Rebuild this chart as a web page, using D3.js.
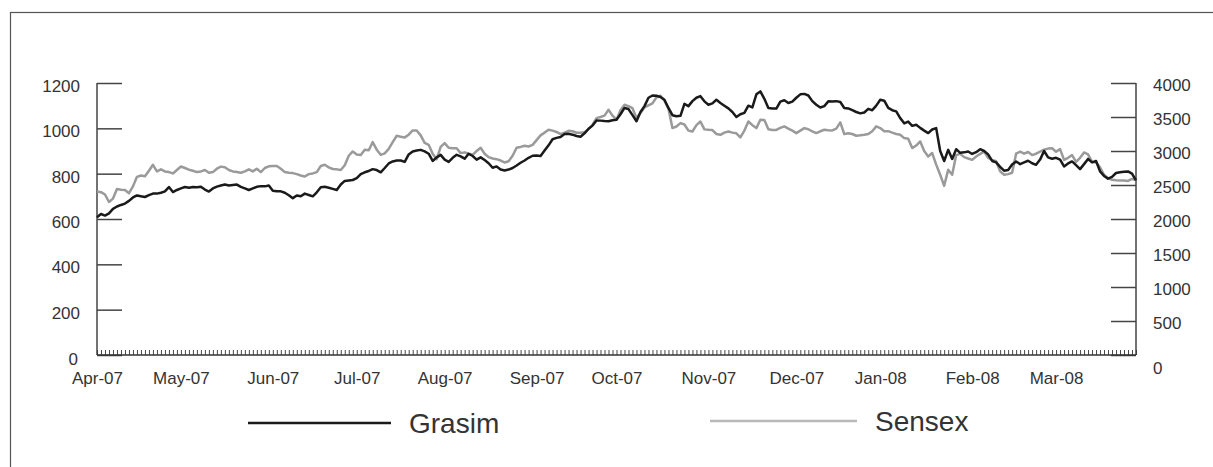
<!DOCTYPE html>
<html>
<head>
<meta charset="utf-8">
<script src="https://cdn.jsdelivr.net/npm/d3@7"></script>
<style>
  body { margin: 0; background: #fff; }
  svg text { font-family: "Liberation Sans", Arial, Helvetica, sans-serif; fill: #333; }
</style>
</head>
<body>
<script>
// one point per weekday, Apr-07 .. Mar-08
var startDate = new Date(2007, 3, 2)
var endDate = new Date(2008, 3, 1)

var leftTicks = [0, 200, 400, 600, 800, 1000, 1200]
var rightTicks = [0, 500, 1000, 1500, 2000, 2500, 3000, 3500, 4000]
var seriesNames = ['Grasim', 'Sensex']

// Grasim share price (left axis)
var grasim = [
  608,622,615,625,645,655,662,668,680,695,
  704,700,697,705,712,712,716,722,741,719,
  728,735,741,738,741,740,742,730,721,735,
  743,748,752,748,750,752,742,735,728,735,
  742,745,744,748,725,722,722,716,705,692,
  704,700,712,706,700,718,740,742,738,733,
  728,752,768,770,772,780,798,806,812,820,
  816,806,825,845,854,858,858,852,885,898,
  902,905,898,888,856,872,883,862,852,870,
  883,876,866,888,878,862,872,860,846,826,
  832,818,814,818,825,836,848,858,870,879,
  880,878,902,925,952,958,962,975,976,972,
  966,963,978,998,1012,1035,1034,1032,1031,1036,
  1038,1062,1090,1085,1058,1031,1072,1098,1135,1145,
  1144,1138,1126,1090,1058,1053,1055,1108,1098,1120,
  1135,1142,1119,1104,1110,1126,1112,1100,1088,1072,
  1050,1062,1068,1100,1092,1150,1163,1130,1090,1088,
  1087,1118,1124,1112,1118,1135,1150,1152,1145,1120,
  1104,1092,1098,1119,1118,1120,1116,1090,1088,1080,
  1072,1066,1070,1086,1080,1100,1126,1122,1090,1080,
  1075,1045,1022,1030,1011,1016,1002,990,979,995,
  1001,900,856,905,865,908,892,894,898,887,
  895,908,900,885,856,850,830,813,816,840,
  854,842,850,857,846,839,862,900,872,866,
  870,862,832,845,854,838,820,842,865,850,
  856,810,790,778,786,803,806,808,810,800,
  770
]

// Sensex (right axis)
var sensex = [
  2404,2395,2360,2250,2300,2440,2430,2425,2380,2480,
  2620,2640,2630,2710,2797,2700,2730,2700,2690,2670,
  2720,2772,2750,2725,2710,2690,2700,2720,2680,2690,
  2740,2770,2760,2720,2700,2690,2680,2700,2730,2700,
  2740,2690,2750,2775,2780,2780,2740,2690,2680,2675,
  2660,2640,2625,2660,2670,2690,2780,2797,2760,2735,
  2730,2720,2790,2930,2993,2950,2940,3018,3010,3130,
  3020,2944,2965,3030,3130,3224,3210,3200,3240,3302,
  3302,3230,3120,3091,2960,2880,3060,3116,3047,3040,
  3040,2969,2980,2960,2944,3000,3047,2960,2910,2890,
  2880,2860,2831,2850,2930,3047,3060,3077,3066,3090,
  3160,3230,3270,3312,3300,3280,3248,3270,3297,3290,
  3268,3268,3275,3320,3386,3484,3500,3520,3606,3520,
  3460,3600,3680,3660,3630,3484,3560,3640,3670,3700,
  3790,3813,3740,3620,3337,3360,3410,3390,3300,3287,
  3380,3434,3318,3312,3308,3250,3238,3270,3287,3270,
  3260,3200,3300,3434,3380,3337,3459,3455,3320,3308,
  3310,3340,3362,3330,3300,3263,3300,3337,3320,3290,
  3263,3290,3312,3305,3302,3330,3420,3248,3262,3250,
  3224,3230,3238,3250,3290,3362,3337,3290,3292,3270,
  3250,3240,3190,3180,3043,3080,3140,3000,2920,2970,
  2800,2650,2488,2723,2650,2940,2958,2910,2890,2870,
  2920,2958,2990,2900,2870,2850,2700,2650,2660,2680,
  2960,2990,2960,2985,2940,2960,2990,3020,3035,3040,
  2990,3027,2870,2900,2940,2840,2900,2978,2950,2840,
  2835,2760,2650,2600,2576,2570,2568,2565,2560,2590,
  2570
]

var options = {
  width: 1213,
  height: 467,
  left: 97,
  right: 1136,
  top: 83,
  bottom: 355
}

var dates = d3.timeDay.range(startDate, endDate).filter(function(d) {
  return d.getDay() !== 0 && d.getDay() !== 6
})
var monthStarts = dates.filter(function(d, i) {
  return i === 0 || d.getMonth() !== dates[i - 1].getMonth()
})

var svg = d3.select('body').append('svg')
  .attr('width', options.width)
  .attr('height', options.height)

// outer frame, runs off the right and bottom edge
svg.append('rect')
  .attr('x', 10.5).attr('y', 12.5)
  .attr('width', 1400).attr('height', 700)
  .attr('fill', 'none')
  .attr('stroke', '#555')
  .attr('stroke-width', 1.2)

var x = d3.scalePoint().domain(dates).range([options.left, options.right])
var yLeft = d3.scaleLinear().domain([0, 1200]).range([options.bottom, options.top])
var yRight = d3.scaleLinear().domain([0, 4000]).range([options.bottom, options.top])

// left axis, ticks point inward
var gLeft = svg.append('g')
  .attr('transform', 'translate(' + options.left + ',0)')
  .call(d3.axisRight(yLeft).tickValues(leftTicks).tickSize(25).tickFormat(''))
gLeft.select('.domain').remove()
gLeft.append('line')
  .attr('x1', 0).attr('x2', 0)
  .attr('y1', options.top).attr('y2', options.bottom)
  .attr('stroke', '#444').attr('stroke-width', 1.5)
gLeft.selectAll('.tick line').attr('stroke', '#444').attr('stroke-width', 1.5)

svg.append('g').selectAll('text').data(leftTicks).enter().append('text')
  .attr('x', function(d) { return options.left - (d === 0 ? 19 : 17) })
  .attr('y', function(d) { return yLeft(d) + (d === 0 ? 10 : 9) })
  .attr('text-anchor', 'end')
  .attr('font-size', 17)
  .text(function(d) { return d })

// right axis
var gRight = svg.append('g')
  .attr('transform', 'translate(' + options.right + ',0)')
  .call(d3.axisLeft(yRight).tickValues(rightTicks).tickSize(25).tickFormat(''))
gRight.select('.domain').remove()
gRight.append('line')
  .attr('x1', 0).attr('x2', 0)
  .attr('y1', options.top).attr('y2', options.bottom)
  .attr('stroke', '#444').attr('stroke-width', 1.5)
gRight.selectAll('.tick line').attr('stroke', '#444').attr('stroke-width', 1.5)

svg.append('g').selectAll('text').data(rightTicks).enter().append('text')
  .attr('x', options.right + 17)
  .attr('y', function(d) { return yRight(d) + (d === 0 ? 19 : 8) })
  .attr('text-anchor', 'start')
  .attr('font-size', 17)
  .text(function(d) { return d })

// x axis: a small tick for every day
var gX = svg.append('g')
  .attr('transform', 'translate(0,' + options.bottom + ')')
  .call(d3.axisTop(x).tickValues(dates).tickSizeInner(5).tickSizeOuter(0).tickFormat(''))
gX.select('.domain')
  .attr('d', 'M' + options.left + ',0H' + options.right)
  .attr('stroke', '#333').attr('stroke-width', 1.5)
gX.selectAll('.tick line').attr('stroke', '#333').attr('stroke-width', 0.9)

// month labels
var gMonths = svg.append('g')
  .attr('transform', 'translate(0,' + options.bottom + ')')
  .call(d3.axisBottom(x).tickValues(monthStarts).tickSize(0).tickPadding(17)
    .tickFormat(d3.timeFormat('%b-%y')))
gMonths.select('.domain').remove()
gMonths.selectAll('text')
  .attr('font-size', 17)
  .attr('font-family', '"Liberation Sans", Arial, sans-serif')
  .attr('fill', '#333')

function drawLine(values, scale, color) {
  var line = d3.line()
    .x(function(d, i) { return x(dates[i]) })
    .y(function(d) { return scale(d) })
  svg.append('path')
    .datum(values)
    .attr('d', line)
    .attr('fill', 'none')
    .attr('stroke', color)
    .attr('stroke-width', 2.5)
    .attr('stroke-linejoin', 'round')
}

drawLine(sensex, yRight, '#9a9a9a')
drawLine(grasim, yLeft, '#1a1a1a')

// legend
var legend = [
  { name: seriesNames[0], color: '#1a1a1a', x1: 248, x2: 391, y: 423 },
  { name: seriesNames[1], color: '#b9b9b9', x1: 710, x2: 857, y: 421 }
]
var lg = svg.append('g').selectAll('g').data(legend).enter().append('g')
lg.append('line')
  .attr('x1', function(d) { return d.x1 })
  .attr('x2', function(d) { return d.x2 })
  .attr('y1', function(d) { return d.y })
  .attr('y2', function(d) { return d.y })
  .attr('stroke', function(d) { return d.color })
  .attr('stroke-width', 2.6)
lg.append('text')
  .attr('x', function(d) { return d.x2 + 18 })
  .attr('y', function(d) { return d.y + 10 })
  .attr('font-size', 28)
  .attr('fill', '#222')
  .text(function(d) { return d.name })
</script>
</body>
</html>
